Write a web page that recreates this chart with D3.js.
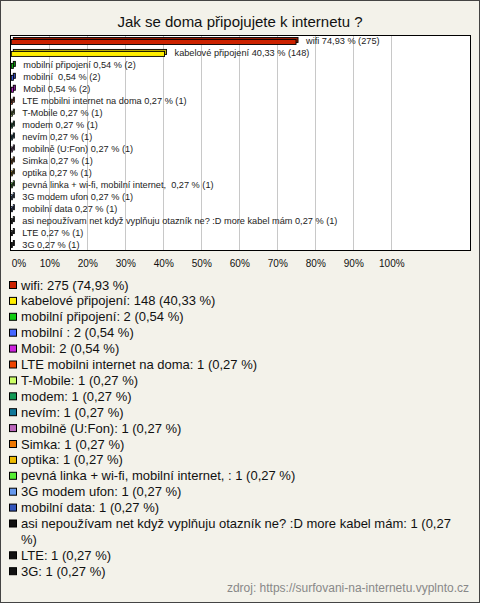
<!DOCTYPE html>
<html>
<head>
<meta charset="utf-8">
<script src="https://cdn.jsdelivr.net/npm/d3@7/dist/d3.min.js"></script>
<style>
html,body{margin:0;padding:0;background:#fff;}
svg{display:block;font-family:"Liberation Sans",Arial,sans-serif;}
text{white-space:pre;}
</style>
</head>
<body>
<svg id="chart" width="480" height="603"></svg>
<script>
const title = "Jak se doma připojujete k internetu ?";
const categories = [
  "wifi",
  "kabelové připojení",
  "mobilní připojení",
  "mobilní ",
  "Mobil",
  "LTE mobilni internet na doma",
  "T-Mobile",
  "modem",
  "nevím",
  "mobilně (U:Fon)",
  "Simka",
  "optika",
  "pevná linka + wi-fi, mobilní internet, ",
  "3G modem ufon",
  "mobilní data",
  "asi nepoužívam net když vyplňuju otazník ne? :D more kabel mám",
  "LTE",
  "3G"
];
const counts = [275, 148, 2, 2, 2, 1, 1, 1, 1, 1, 1, 1, 1, 1, 1, 1, 1, 1];
const percents = [74.93, 40.33, 0.54, 0.54, 0.54, 0.27, 0.27, 0.27, 0.27, 0.27, 0.27, 0.27, 0.27, 0.27, 0.27, 0.27, 0.27, 0.27];
const colors = ["#cc2200", "#ffee00", "#11cc11", "#4466ff", "#cc22dd", "#ee4400", "#ccff66", "#119955", "#117799", "#bb66bb", "#ee7700", "#eebb00", "#55ee33", "#6699ee", "#3355bb", "#111111", "#111111", "#111111"];
const tickValues = [0, 10, 20, 30, 40, 50, 60, 70, 80, 90, 100];
const source = "zdroj: https://surfovani-na-internetu.vyplnto.cz";

const fmt = v => v.toFixed(2).replace(".", ",");
const svg = d3.select("#chart");
const W = 480, H = 603;

svg.append("rect").attr("x", 0.5).attr("y", 0.5).attr("width", W - 1).attr("height", H - 1)
  .attr("fill", "#f3f2ea").attr("stroke", "#444").attr("stroke-width", 1);

svg.append("text").attr("x", 240).attr("y", 27).attr("text-anchor", "middle")
  .attr("font-size", 15).attr("fill", "#111").text(title);

const box = {x0: 10.5, x1: 470.5, y0: 35.5, y1: 250.5};
const x = d3.scaleLinear().domain([0, 100]).range([11.3, 391.3]);
const y = d3.scaleBand().domain(categories).range([35, 250]);

svg.append("rect").attr("x", box.x0).attr("y", box.y0)
  .attr("width", box.x1 - box.x0).attr("height", box.y1 - box.y0)
  .attr("fill", "#fff").attr("stroke", "none");

// gridlines
const grid = svg.append("g").attr("transform", `translate(0,${box.y1})`)
  .call(d3.axisBottom(x).tickValues(tickValues.slice(1)).tickSize(-(box.y1 - box.y0)).tickFormat(""));
grid.select(".domain").remove();
grid.selectAll("line").attr("stroke", "#c8c8c8").attr("shape-rendering", "crispEdges");

svg.append("rect").attr("x", box.x0).attr("y", box.y0)
  .attr("width", box.x1 - box.x0).attr("height", box.y1 - box.y0)
  .attr("fill", "none").attr("stroke", "#000");

// bars (3D style)
const bars = svg.append("g");
categories.forEach((c, i) => {
  const cy = y(c) + y.bandwidth() / 2;
  const x0 = x(0), x1 = x(percents[i]);
  const w = Math.max(x1 - x0, 0.8);
  const col = d3.color(colors[i]);
  // depth
  bars.append("rect").attr("x", x0 + 2).attr("y", cy - 3.5).attr("width", w).attr("height", 5)
    .attr("fill", col.darker(0.8)).attr("stroke", "#000").attr("stroke-width", 0.9);
  // front
  bars.append("rect").attr("x", x0).attr("y", cy - 1.5).attr("width", w).attr("height", 5)
    .attr("fill", col).attr("stroke", "#000").attr("stroke-width", 0.9);
  bars.append("text").attr("x", x1 + 10).attr("y", cy + 3.5)
    .attr("font-size", 9.2).attr("fill", "#222")
    .text(`${c} ${fmt(percents[i])} % (${counts[i]})`);
});

// axis labels
const ax = svg.append("g").attr("transform", `translate(0,${box.y1})`)
  .call(d3.axisBottom(x).tickValues(tickValues).tickSize(0).tickPadding(9).tickFormat(d => d + "%"));
ax.select(".domain").remove();
ax.selectAll("text").attr("font-size", 10).attr("font-family", "Liberation Sans, Arial, sans-serif").attr("fill", "#111")
  .attr("text-anchor", d => d === 0 ? "start" : "middle");

// legend
const leg = svg.append("g");
let ly = 285;
const maxW = 446;
categories.forEach((c, i) => {
  leg.append("rect").attr("x", 9.5).attr("y", ly - 3.5).attr("width", 7).attr("height", 7)
    .attr("fill", colors[i]).attr("stroke", "#000").attr("stroke-width", 1);
  const t = leg.append("text").attr("x", 21).attr("y", ly + 4.5).attr("font-size", 13).attr("fill", "#111");
  const full = `${c}: ${counts[i]} (${fmt(percents[i])} %)`;
  const words = full.split(" ");
  let line = [];
  let ts = t.append("tspan").attr("x", 21).attr("y", ly + 4.5);
  words.forEach(wd => {
    line.push(wd);
    ts.text(line.join(" "));
    if (ts.node().getComputedTextLength() > maxW && line.length > 1) {
      line.pop();
      ts.text(line.join(" "));
      line = [wd];
      ly += 15.9;
      ts = t.append("tspan").attr("x", 21).attr("y", ly + 4.5).text(wd);
    }
  });
  ly += 15.9;
});

svg.append("text").attr("x", 469).attr("y", 592).attr("text-anchor", "end")
  .attr("font-size", 12).attr("fill", "#888").text(source);
</script>
</body>
</html>
